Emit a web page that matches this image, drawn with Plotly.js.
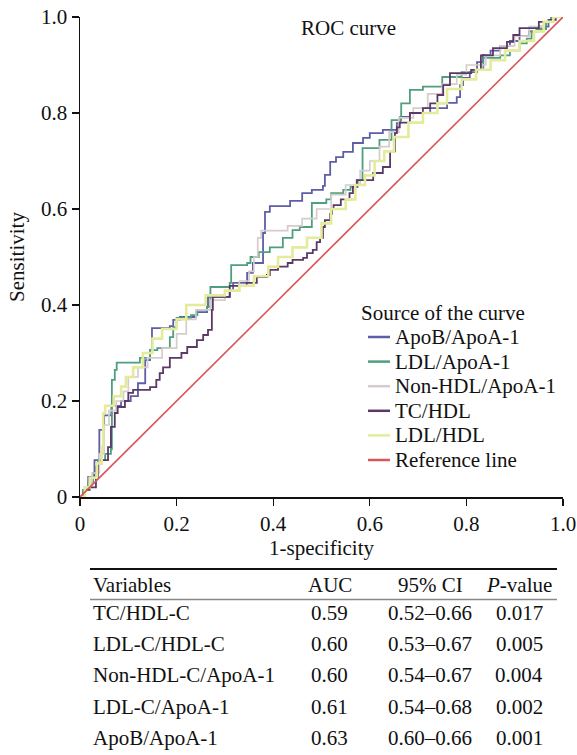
<!DOCTYPE html>
<html>
<head>
<meta charset="utf-8">
<script src="https://cdn.plot.ly/plotly-3.0.1.min.js"></script>
<style>html,body{margin:0;padding:0;background:#fff;}#chart{width:577px;height:755px;}</style>
</head>
<body>
<div id="chart"></div>
<script>
// ---------- DATA ----------
const seriesNames = ["ApoB/ApoA-1", "LDL/ApoA-1", "Non-HDL/ApoA-1", "TC/HDL", "LDL/HDL", "Reference line"];

const fprApoB = [0,0.01,0.017,0.03,0.04,0.05,0.065,0.085,0.105,0.12,0.135,0.145,0.149,0.186,0.193,0.207,0.24,0.263,0.265,0.31,0.317,0.346,0.358,0.379,0.383,0.393,0.435,0.46,0.48,0.503,0.507,0.518,0.53,0.545,0.565,0.586,0.60,0.627,0.656,0.663,0.683,0.725,0.76,0.78,0.787,0.793,0.807,0.822,0.834,0.85,0.87,0.89,0.91,0.93,0.95,0.97,0.98,1];
const tprApoB = [0,0.02,0.042,0.077,0.14,0.17,0.19,0.20,0.21,0.237,0.285,0.306,0.352,0.356,0.369,0.375,0.385,0.396,0.417,0.431,0.446,0.467,0.4875,0.55,0.594,0.606,0.617,0.633,0.64,0.648,0.671,0.698,0.708,0.719,0.7375,0.748,0.758,0.765,0.779,0.792,0.80,0.81,0.821,0.833,0.858,0.873,0.885,0.906,0.921,0.93,0.94,0.95,0.96,0.97,0.98,0.99,1.0,1];

const fprLdlApo = [0,0.006,0.017,0.027,0.033,0.037,0.052,0.064,0.066,0.072,0.076,0.124,0.145,0.16,0.186,0.193,0.20,0.23,0.243,0.263,0.27,0.31,0.313,0.346,0.353,0.37,0.393,0.42,0.44,0.455,0.48,0.51,0.52,0.545,0.56,0.575,0.585,0.62,0.645,0.665,0.683,0.71,0.75,0.79,0.81,0.835,0.87,0.89,0.91,0.925,0.935,0.945,0.965,0.975,1];
const tprLdlApo = [0,0.015,0.03,0.05,0.0625,0.077,0.09,0.1,0.244,0.265,0.28,0.29,0.306,0.31,0.333,0.354,0.373,0.379,0.39,0.396,0.4375,0.446,0.483,0.4875,0.5,0.51,0.52,0.54,0.556,0.5625,0.6125,0.62,0.633,0.64,0.646,0.66,0.727,0.744,0.785,0.82,0.848,0.855,0.875,0.885,0.89,0.915,0.92,0.93,0.945,0.955,0.97,0.975,0.99,1.0,1];

const fprNonHdl = [0,0.01,0.025,0.04,0.05,0.06,0.075,0.09,0.1,0.12,0.14,0.17,0.2,0.22,0.24,0.27,0.3,0.33,0.35,0.36,0.368,0.375,0.43,0.46,0.49,0.52,0.55,0.58,0.6,0.62,0.64,0.66,0.69,0.72,0.75,0.78,0.8,0.84,0.87,0.9,0.93,0.96,0.98,1];
const tprNonHdl = [0,0.02,0.05,0.09,0.15,0.18,0.2,0.22,0.25,0.27,0.29,0.31,0.34,0.37,0.39,0.41,0.43,0.45,0.47,0.5,0.54,0.555,0.565,0.58,0.6,0.63,0.65,0.68,0.7,0.73,0.76,0.79,0.81,0.84,0.86,0.88,0.9,0.92,0.94,0.96,0.98,0.99,1,1];

const fprTcHdl = [0,0.01,0.02,0.033,0.037,0.045,0.058,0.064,0.072,0.078,0.093,0.1,0.11,0.145,0.158,0.165,0.172,0.186,0.21,0.222,0.242,0.255,0.265,0.273,0.275,0.31,0.345,0.366,0.387,0.393,0.41,0.43,0.44,0.462,0.47,0.482,0.49,0.497,0.503,0.507,0.518,0.522,0.525,0.54,0.558,0.565,0.573,0.607,0.627,0.642,0.652,0.656,0.662,0.683,0.71,0.725,0.74,0.752,0.766,0.81,0.83,0.855,0.884,0.897,0.91,0.95,0.97,0.985,1];
const tprTcHdl = [0,0.015,0.02,0.04,0.07,0.077,0.104,0.146,0.175,0.1875,0.2,0.217,0.223,0.229,0.244,0.258,0.27,0.29,0.30,0.3125,0.327,0.3375,0.348,0.39,0.417,0.44,0.446,0.458,0.4625,0.473,0.48,0.4875,0.494,0.498,0.508,0.515,0.531,0.54,0.5625,0.577,0.59,0.6,0.608,0.62,0.633,0.646,0.66,0.675,0.6875,0.72,0.758,0.77,0.78,0.80,0.81,0.82,0.8375,0.858,0.883,0.89,0.92,0.935,0.948,0.9625,0.977,0.99,0.994,1.0,1];

const fprLdlHdl = [0,0.01,0.02,0.035,0.045,0.048,0.052,0.07,0.085,0.095,0.11,0.13,0.15,0.17,0.2,0.22,0.26,0.3,0.33,0.36,0.39,0.41,0.44,0.47,0.5,0.52,0.55,0.57,0.59,0.61,0.63,0.65,0.68,0.71,0.74,0.76,0.79,0.82,0.85,0.88,0.91,0.94,0.96,0.98,1];
const tprLdlHdl = [0,0.02,0.04,0.07,0.104,0.175,0.19,0.21,0.23,0.25,0.27,0.30,0.33,0.35,0.37,0.4,0.42,0.43,0.44,0.46,0.48,0.5,0.52,0.54,0.57,0.6,0.62,0.65,0.67,0.7,0.72,0.75,0.78,0.8,0.82,0.85,0.87,0.89,0.91,0.93,0.95,0.97,0.99,1,1];

const fprRef = [0, 1];
const tprRef = [0, 1];

const xTickVals = [0, 0.2, 0.4, 0.6, 0.8, 1.0];
const xTickText = ["0", "0.2", "0.4", "0.6", "0.8", "1.0"];
const yTickVals = [0, 0.2, 0.4, 0.6, 0.8, 1.0];
const yTickText = ["0", "0.2", "0.4", "0.6", "0.8", "1.0"];

const tableHeader = ["Variables", "AUC", "95% CI", "<i>P</i>-value"];
const tableVariables = ["TC/HDL-C", "LDL-C/HDL-C", "Non-HDL-C/ApoA-1", "LDL-C/ApoA-1", "ApoB/ApoA-1"];
const tableAUC = ["0.59", "0.60", "0.60", "0.61", "0.63"];
const tableCI = ["0.52\u20130.66", "0.53\u20130.67", "0.54\u20130.67", "0.54\u20130.68", "0.60\u20130.66"];
const tableP = ["0.017", "0.005", "0.004", "0.002", "0.001"];

// ---------- STYLE ----------
const W = 577, H = 755;
const FONT = "Liberation Serif, Times New Roman, serif";
const INK = "#111";
const colors = ["#5e5ea6", "#4f9e7e", "#d6cccc", "#5b3866", "#e4ec9c", "#d8585a"];
const widths = [1.8, 1.8, 1.7, 1.8, 2.6, 1.7];
const px = v => v / W, py = v => 1 - v / H;

const curveX = [fprApoB, fprLdlApo, fprNonHdl, fprTcHdl, fprLdlHdl, fprRef];
const curveY = [tprApoB, tprLdlApo, tprNonHdl, tprTcHdl, tprLdlHdl, tprRef];

const traces = curveX.map((xs, i) => ({
  type: "scatter", mode: "lines", name: seriesNames[i],
  x: xs, y: curveY[i],
  line: { color: colors[i], width: widths[i], shape: i === 5 ? "linear" : "hv" },
  showlegend: false, hoverinfo: "skip",
  xaxis: "x", yaxis: "y"
}));

const txt = (text, x, y, anchor, size) => ({
  text: text, x: px(x), y: py(y), xref: "paper", yref: "paper", showarrow: false,
  xanchor: anchor, yanchor: "middle", font: { family: FONT, size: size || 21, color: INK }
});

// title + legend (annotations with sample lines)
const legendTop = 313, legendStep = 24.6, legendFirst = 337;
const annotations = [
  txt("ROC curve", 348, 28, "center"),
  txt("Source of the curve", 359, legendTop, "left")
];
const shapes = [
  { type: "line", xref: "paper", yref: "paper", x0: px(90), x1: px(557), y0: py(569), y1: py(569),
    line: { color: INK, width: 2 } },
  { type: "line", xref: "paper", yref: "paper", x0: px(90), x1: px(557), y0: py(599.5), y1: py(599.5),
    line: { color: "#888", width: 1.5 } }
];
seriesNames.forEach((name, i) => {
  const yc = legendFirst + i * legendStep;
  annotations.push(txt(name, 393, yc, "left"));
  shapes.push({ type: "line", xref: "paper", yref: "paper", x0: px(368), x1: px(390), y0: py(yc), y1: py(yc),
    line: { color: colors[i], width: 2.5 } });
});

// table (built from the table arrays)
const colX = [91, 330, 430, 519];
const colAnchor = ["left", "center", "center", "center"];
const headerY = 585, rowY0 = 612.5, rowStep = 31.4;
tableHeader.forEach((h, c) => annotations.push(txt(h, colX[c], headerY, colAnchor[c], 21)));
const tableCols = [tableVariables, tableAUC, tableCI, tableP];
tableCols.forEach((col, c) => col.forEach((v, r) =>
  annotations.push(txt(v, colX[c], rowY0 + r * rowStep, colAnchor[c], 21))));

const layout = {
  width: W, height: H,
  margin: { l: 0, r: 0, t: 0, b: 0 },
  paper_bgcolor: "#fff", plot_bgcolor: "#fff",
  font: { family: FONT, size: 21, color: INK },
  showlegend: false,
  xaxis: {
    domain: [px(80), px(563)], range: [0, 1], anchor: "y",
    tickvals: xTickVals, ticktext: xTickText,
    ticks: "outside", ticklen: 7, tickcolor: INK, tickwidth: 1.2,
    showline: true, linecolor: INK, linewidth: 1.5,
    showgrid: false, zeroline: false,
    tickfont: { family: FONT, size: 21, color: INK },
    title: { text: "1-specificity", font: { family: FONT, size: 21, color: INK }, standoff: 0 }
  },
  yaxis: {
    domain: [1 - 497 / H, 1 - 17 / H], range: [0, 1], anchor: "x",
    tickvals: yTickVals, ticktext: yTickText,
    ticks: "outside", ticklen: 7, tickcolor: INK, tickwidth: 1.2,
    showline: true, linecolor: INK, linewidth: 1.5,
    showgrid: false, zeroline: false,
    tickfont: { family: FONT, size: 21, color: INK },
    title: { text: "Sensitivity", font: { family: FONT, size: 21, color: INK }, standoff: 10 }
  },
  annotations: annotations,
  shapes: shapes
};

Plotly.newPlot("chart", traces, layout, { staticPlot: true, displayModeBar: false });
</script>
</body>
</html>
